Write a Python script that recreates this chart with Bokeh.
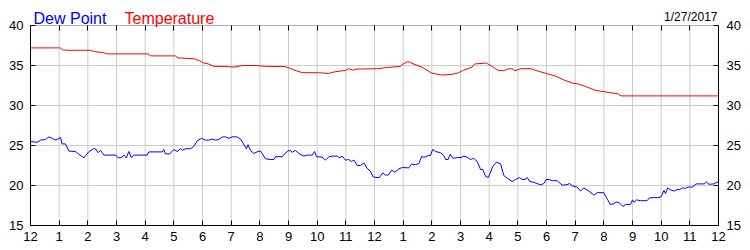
from bokeh.plotting import figure
from bokeh.models import Range1d, LinearAxis, FixedTicker, BoxAnnotation
from bokeh.core.properties import value
from bokeh.embed import file_html
from bokeh.resources import INLINE

# ---- data ----
title_dew = "Dew Point"
title_temp = "Temperature"
date_text = "1/27/2017"

x_ticks = list(range(0, 25))
x_tick_labels = ["12", "1", "2", "3", "4", "5", "6", "7", "8", "9", "10", "11",
                 "12", "1", "2", "3", "4", "5", "6", "7", "8", "9", "10", "11", "12"]
y_ticks = [15, 20, 25, 30, 35, 40]

temp_hours = [0, 1.05, 1.12, 1.3, 2.1, 2.2, 2.55, 2.7, 4.1, 4.2, 5.05, 5.15, 5.7, 5.9,
              6.0, 6.2, 6.4, 6.9, 7.1, 7.4, 7.85, 8.2, 8.9, 9.3, 9.5, 10.05, 10.4, 10.6,
              11.0, 11.1, 11.25, 11.35, 12.1, 12.45, 12.9, 13.0, 13.15, 13.25, 13.35,
              13.65, 14.0, 14.35, 14.7, 14.9, 15.1, 15.4, 15.5, 15.9, 16.1, 16.3, 16.5,
              16.7, 16.8, 16.9, 17.1, 17.45, 17.7, 18.05, 18.3, 18.6, 18.9, 19.1, 19.35,
              19.7, 20.05, 20.5, 20.6, 24.0]
temp_values = [37.2, 37.2, 36.95, 36.9, 36.9, 36.75, 36.6, 36.45, 36.45, 36.2, 36.2, 35.95,
               35.85, 35.6, 35.35, 35.2, 34.9, 34.85, 34.8, 35.0, 35.0, 34.9, 34.85, 34.3,
               34.1, 34.1, 34.0, 34.2, 34.4, 34.6, 34.4, 34.55, 34.6, 34.75, 34.9, 35.2,
               35.45, 35.4, 35.2, 34.8, 34.05, 33.8, 33.9, 34.05, 34.4, 34.8, 35.2, 35.3,
               34.9, 34.4, 34.35, 34.6, 34.6, 34.35, 34.6, 34.6, 34.3, 33.95, 33.7, 33.2,
               32.8, 32.7, 32.4, 31.9, 31.7, 31.45, 31.2, 31.2]

dew_hours = [0, 0.23, 0.35, 0.52, 0.64, 0.76, 0.85, 0.93, 1.05, 1.1, 1.22, 1.34, 1.57,
             1.69, 1.86, 2.03, 2.2, 2.28, 2.36, 2.44, 2.56, 2.97, 3.06, 3.18, 3.26, 3.34,
             3.43, 3.52, 3.6, 4.07, 4.13, 4.6, 4.65, 4.71, 4.86, 5.0, 5.12, 5.23, 5.3,
             5.41, 5.58, 5.7, 5.82, 5.97, 6.1, 6.22, 6.34, 6.45, 6.57, 6.69, 6.8, 6.92,
             7.04, 7.2, 7.33, 7.53, 7.59, 7.67, 7.79, 7.9, 8.02, 8.08, 8.2, 8.37, 8.49,
             8.55, 8.78, 8.95, 9.05, 9.13, 9.24, 9.36, 9.54, 9.65, 9.83, 9.91, 9.98,
             10.17, 10.29, 10.41, 10.52, 10.7, 10.79, 10.87, 10.99, 11.1, 11.19, 11.28,
             11.4, 11.51, 11.63, 11.74, 11.86, 11.95, 12.09, 12.17, 12.29, 12.38, 12.48,
             12.6, 12.71, 12.85, 12.97, 13.2, 13.29, 13.43, 13.55, 13.65, 13.72, 13.88,
             13.95, 14.03, 14.13, 14.3, 14.42, 14.48, 14.57, 14.64, 14.74, 14.9, 15.05,
             15.08, 15.2, 15.35, 15.46, 15.58, 15.7, 15.78, 15.87, 15.97, 16.05, 16.13,
             16.25, 16.4, 16.51, 16.63, 16.8, 16.92, 17.06, 17.15, 17.25, 17.33, 17.41,
             17.56, 17.79, 17.91, 17.99, 18.1, 18.2, 18.37, 18.55, 18.72, 18.8, 18.9,
             19.07, 19.19, 19.3, 19.48, 19.65, 19.77, 20.0, 20.12, 20.23, 20.35, 20.43,
             20.55, 20.67, 20.76, 20.93, 21.0, 21.05, 21.14, 21.28, 21.51, 21.59, 21.92,
             22.0, 22.1, 22.15, 22.23, 22.3, 22.45, 22.56, 22.65, 22.75, 22.85, 22.94,
             23.08, 23.22, 23.5, 23.58, 23.67, 23.84, 23.92, 24.0]
dew_values = [25.5, 25.4, 25.67, 25.75, 26.08, 25.9, 25.7, 25.75, 26.0, 25.2, 25.2, 24.3,
              24.25, 23.9, 23.45, 24.2, 24.6, 24.55, 24.1, 24.4, 23.8, 23.8, 23.45, 23.5,
              23.8, 23.45, 24.25, 23.45, 23.8, 23.8, 24.2, 24.2, 24.5, 23.95, 23.95, 24.5,
              24.25, 24.6, 24.4, 24.6, 24.6, 24.9, 25.6, 25.9, 25.67, 25.67, 25.8, 25.67,
              25.75, 26.08, 26.08, 25.9, 26.08, 26.08, 25.8, 24.6, 25.1, 24.4, 24.0, 24.2,
              24.33, 24.0, 23.33, 23.25, 23.25, 23.6, 23.6, 24.25, 24.4, 24.15, 24.4, 24.0,
              23.67, 23.8, 23.8, 24.25, 23.6, 23.55, 23.17, 23.6, 23.67, 23.67, 23.45,
              23.67, 23.17, 23.25, 23.0, 23.17, 22.5, 22.5, 22.83, 22.17, 21.75, 21.08,
              21.0, 21.0, 21.58, 21.3, 21.3, 21.92, 21.67, 22.08, 22.25, 22.2, 22.67, 22.6,
              22.75, 23.67, 23.5, 23.75, 23.75, 24.5, 24.25, 24.1, 23.75, 23.25, 23.25,
              23.9, 23.4, 23.5, 23.5, 23.67, 23.6, 23.25, 23.4, 23.0, 22.0, 22.0, 21.17,
              21.0, 21.67, 22.42, 22.92, 22.7, 21.25, 20.92, 20.5, 20.75, 21.0, 20.75,
              20.75, 21.0, 20.5, 20.4, 20.08, 20.25, 20.75, 20.75, 20.6, 20.6, 20.04, 20.1,
              20.25, 19.96, 19.8, 19.3, 19.7, 19.3, 18.8, 19.1, 19.1, 18.3, 17.63, 17.7,
              17.96, 17.8, 17.38, 17.63, 17.63, 18.2, 17.9, 18.2, 18.1, 18.1, 18.46, 18.5,
              18.6, 19.4, 19.0, 19.7, 19.5, 19.3, 19.5, 19.5, 19.7, 19.65, 19.8, 19.8, 20.2,
              20.2, 20.42, 20.15, 20.2, 20.4, 20.4]

FONT = "Liberation Sans"
X0, X1 = x_ticks[0], x_ticks[-1]
Y0, Y1 = y_ticks[0], y_ticks[-1]
# the frame also holds the 25px header strip above the value area (8 px per degree)
Y_TOP = Y1 + 25 / 8.0

p = figure(width=750, height=250, output_backend="svg", toolbar_location=None,
           x_range=Range1d(X0, X1), y_range=Range1d(Y0, Y_TOP),
           min_border_left=30, min_border_right=32, min_border_top=0, min_border_bottom=25,
           x_axis_location=None, y_axis_location=None)
p.outline_line_color = None
p.background_fill_color = "white"
p.border_fill_color = "white"
p.xgrid.visible = False
p.ygrid.visible = False

xt = FixedTicker(ticks=x_ticks)
yt = FixedTicker(ticks=y_ticks)
x_over = {t: lab for t, lab in zip(x_ticks, x_tick_labels)}


def style(ax, standoff):
    ax.axis_line_color = "black"
    ax.major_tick_in = 5
    ax.major_tick_out = 0
    ax.minor_tick_in = 0
    ax.minor_tick_out = 0
    ax.minor_tick_line_color = None
    ax.major_tick_line_color = "black"
    ax.major_label_text_font = FONT
    ax.major_label_text_font_size = "13px"
    ax.major_label_text_color = "black"
    ax.major_label_standoff = standoff


# grid lines restricted to the value area
gx = x_ticks[1:-1]
p.segment(x0=gx, y0=[Y0] * len(gx), x1=gx, y1=[Y1] * len(gx),
          line_color="#cccccc", line_width=1)
gy = y_ticks[1:-1]
p.segment(x0=[X0] * len(gy), y0=gy, x1=[X1] * len(gy), y1=gy,
          line_color="#cccccc", line_width=1)

bottom = LinearAxis(ticker=xt, major_label_overrides=x_over)
style(bottom, 6)
p.add_layout(bottom, "below")

top = LinearAxis(ticker=xt, fixed_location=Y1)
style(top, 0)
top.axis_line_color = None
top.major_label_text_color = None
p.add_layout(top, "above")

left = LinearAxis(ticker=yt, bounds=(Y0, Y1))
style(left, 7)
p.add_layout(left, "left")

right = LinearAxis(ticker=yt, bounds=(Y0, Y1))
style(right, 8)
p.add_layout(right, "right")

p.line(temp_hours, temp_values, line_color="#ff0000", line_width=1)
p.line(dew_hours, dew_values, line_color="#0000ff", line_width=1)

p.add_layout(BoxAnnotation(left=X0, right=X1, bottom=Y0, top=Y1,
                           fill_color=None, line_color="black", line_width=1))

p.text(x=[X0], y=[Y1], text=[title_dew], x_offset=3, y_offset=-7.5,
       text_font=value(FONT), text_font_size="16px", text_color="#0000ff",
       text_baseline="alphabetic", text_align="left")
p.text(x=[X0], y=[Y1], text=[title_temp], x_offset=94, y_offset=-7.5,
       text_font=value(FONT), text_font_size="16px", text_color="#ff0000",
       text_baseline="alphabetic", text_align="left")
p.text(x=[X1], y=[Y1], text=[date_text], x_offset=-1, y_offset=-8.3,
       text_font=value(FONT), text_font_size="12px", text_color="black",
       text_baseline="alphabetic", text_align="right")

open("out.html", "w").write(file_html(p, INLINE))
